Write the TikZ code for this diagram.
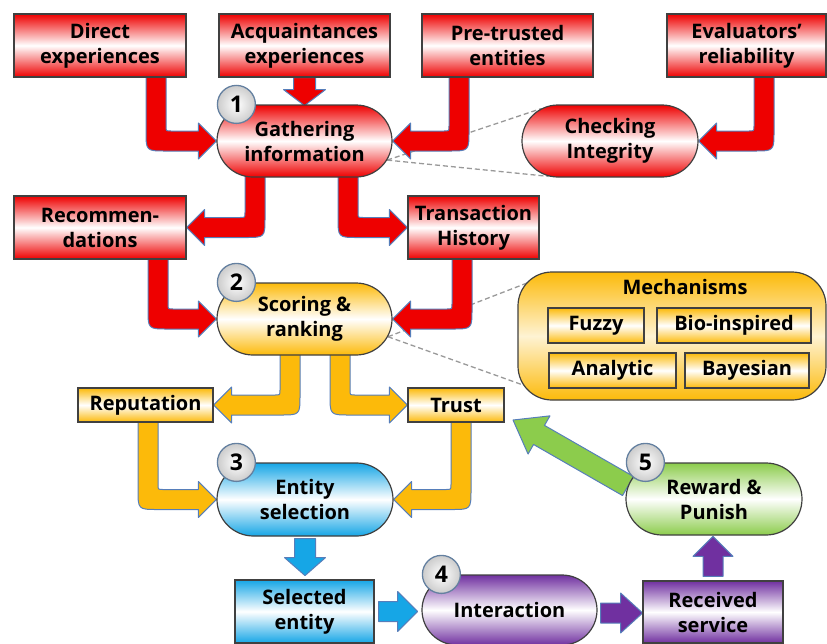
\documentclass[tikz,border=0pt]{standalone}
\usepackage{fontspec}
\setmainfont{Open Sans}
\usetikzlibrary{shapes.misc,calc}

\definecolor{cRed}{RGB}{238,0,0}
\definecolor{cOrange}{RGB}{252,186,10}
\definecolor{cBlue}{RGB}{22,166,230}
\definecolor{cPurple}{RGB}{112,48,160}
\definecolor{cGreen}{RGB}{140,204,76}
\definecolor{boxline}{RGB}{64,64,64}
\definecolor{arrowline}{RGB}{86,126,186}
\definecolor{badgeline}{RGB}{100,128,160}

\pgfdeclarelayer{back}
\pgfsetlayers{back,main}

% geometry of the bent block arrows
\def\aw{10pt}\def\ah{18pt}\def\aL{18pt}\def\aR{20pt}\def\ar{5pt}

% bent block arrow: leaves #2 downwards at x=#4, turns and hits side #5 of #3;
% #6 = 1 when it turns right, -1 when it turns left
\newcommand\larrow[6]{%
  \fill[blockarrow=#1] let \p1=(#2.south), \p2=(#3.#5) in
  ({(#4)*1pt-(#6)*\aw},{\y1+6pt})
  -- ({(#4)*1pt-(#6)*\aw},{\y2-\aw+\aR})
  .. controls ({(#4)*1pt-(#6)*\aw},{\y2-\aw}) ..
  ({(#4)*1pt-(#6)*\aw+(#6)*\aR},{\y2-\aw})
  -- ({\x2-(#6)*\aL},{\y2-\aw})
  -- ({\x2-(#6)*\aL},{\y2-\ah})
  -- (\x2,\y2)
  -- ({\x2-(#6)*\aL},{\y2+\ah})
  -- ({\x2-(#6)*\aL},{\y2+\aw})
  -- ({(#4)*1pt+(#6)*\aw+(#6)*\ar},{\y2+\aw})
  .. controls ({(#4)*1pt+(#6)*\aw},{\y2+\aw}) ..
  ({(#4)*1pt+(#6)*\aw},{\y2+\aw+\ar})
  -- ({(#4)*1pt+(#6)*\aw},{\y1+6pt}) -- cycle;}

% straight block arrow: colour, start, angle, length, half stem, half head, head length
\newcommand\sarrow[7]{%
  \fill[blockarrow=#1, shift={(#2)}, rotate=#3]
  (0pt,-#5pt) -- ({#4pt-#7pt},-#5pt) -- ({#4pt-#7pt},-#6pt) -- (#4pt,0pt)
  -- ({#4pt-#7pt},#6pt) -- ({#4pt-#7pt},#5pt) -- (0pt,#5pt) -- cycle;}

\tikzset{
  every node/.style={font=\bfseries\fontsize{20}{25}\selectfont, align=center, inner sep=0pt, text=black},
  shadebox/.style={draw=boxline, line width=1.2pt, top color=#1, bottom color=#1, middle color=white},
  redbox/.style={rectangle, shadebox=cRed},
  orangebox/.style={rectangle, shadebox=cOrange},
  bluebox/.style={rectangle, shadebox=cBlue},
  purplebox/.style={rectangle, shadebox=cPurple},
  pill/.style={rounded rectangle, draw=boxline, line width=1.2pt, top color=#1, bottom color=#1, middle color=white, minimum width=175pt, minimum height=72pt},
  blockarrow/.style={fill=#1, draw=arrowline, line width=1pt, line join=round},
  badge/.style={circle, minimum size=38pt, draw=badgeline, line width=1.3pt, inner color=white, outer color=gray!40, font=\bfseries\fontsize{23}{23}\selectfont},
  dashlink/.style={draw=gray!80, line width=1.3pt, dash pattern=on 5pt off 3pt},
}

\begin{document}
\begin{tikzpicture}[x=1pt,y=-1pt]
\useasboundingbox (0,0) rectangle (827,643);

% sources of information
\node[redbox, minimum width=172pt, minimum height=63pt] (direct) at (100,45.5) {Direct\\experiences};
\node[redbox, minimum width=171pt, minimum height=63pt] (acq) at (304.5,45.5) {Acquaintances\\experiences};
\node[redbox, minimum width=171pt, minimum height=63pt] (pre) at (507.5,45.5) {Pre-trusted\\entities};
\node[redbox, minimum width=159pt, minimum height=63pt] (eval) at (746.5,45.5) {Evaluators’\\reliability};

% step 1
\node[pill=cRed] (gather) at (304.5,141) {Gathering\\information};
\node[pill=cRed, minimum width=176pt] (chk) at (610,141) {Checking\\Integrity};

\node[redbox, minimum width=172pt, minimum height=63pt] (rec) at (100,227.5) {Recommen-\\dations};
\node[redbox, minimum width=131pt, minimum height=63pt] (trans) at (473.5,227.5) {Transaction\\History};

% step 2
\node[pill=cOrange] (score) at (304.5,319) {Scoring \&\\ranking};
\node[rectangle, rounded corners=34pt, draw=boxline, line width=1.2pt,
      top color=cOrange, bottom color=cOrange, middle color=cOrange!18!white,
      minimum width=308pt, minimum height=128pt] (mech) at (672,336) {};
\node (mtitle) at (685,287) {Mechanisms};
\node[orangebox, minimum width=96pt, minimum height=35pt] (fuzzy) at (596,325.5) {Fuzzy};
\node[orangebox, minimum width=154pt, minimum height=35pt] (bio) at (734,325.5) {Bio-inspired};
\node[orangebox, minimum width=127pt, minimum height=35pt] (analytic) at (612.5,370.5) {Analytic};
\node[orangebox, minimum width=124pt, minimum height=35pt] (bayes) at (747,370.5) {Bayesian};

\node[orangebox, minimum width=135pt, minimum height=34pt] (rep) at (145.5,405) {Reputation};
\node[orangebox, minimum width=96pt, minimum height=34pt] (trust) at (456,405) {Trust};

% step 3
\node[pill=cBlue, minimum width=176pt, minimum height=73pt] (entity) at (305,499.5) {Entity\\selection};
\node[bluebox, minimum width=139pt, minimum height=63pt] (selected) at (304.5,611.5) {Selected\\entity};

% step 4
\node[pill=cPurple, minimum height=70pt] (interaction) at (509.5,610) {Interaction};
\node[purplebox, minimum width=140pt, minimum height=62pt] (received) at (713,612) {Received\\service};

% step 5
\node[pill=cGreen, minimum width=176pt] (reward) at (714,499) {Reward \&\\Punish};

% step numbers
\node[badge] (b1) at ($(gather.west|-gather.north)+(20,0)$) {1};
\node[badge] (b2) at ($(score.west|-score.north)+(20,0)$) {2};
\node[badge] (b3) at ($(entity.west|-entity.north)+(20,0)$) {3};
\node[badge] (b4) at ($(interaction.west|-interaction.north)+(20,0)$) {4};
\node[badge] (b5) at ($(reward.west|-reward.north)+(20,0)$) {5};

% free ends of the zoom lines and of the feedback arrow
\coordinate (mup) at (540,278);
\coordinate (mlo) at (537,390);
\coordinate (fb) at (628,486);
\coordinate (i2r) at ($(interaction.east)+(3,3)$);

\begin{pgfonlayer}{back}
  % zoom lines
  \draw[dashlink] (gather.-13) -- (chk.155);
  \draw[dashlink] (gather.-13) -- (chk.210);
  \draw[dashlink] (score.-12) -- (mup);
  \draw[dashlink] (score.-12) -- (mlo);

  % red flow
  \larrow{cRed}{direct}{gather}{156}{west}{1}
  \sarrow{cRed}{acq.south}{-90}{28}{11}{21}{16}
  \larrow{cRed}{pre}{gather}{459}{east}{-1}
  \larrow{cRed}{eval}{chk}{764}{east}{-1}
  \larrow{cRed}{gather}{rec}{255}{east}{-1}
  \larrow{cRed}{gather}{trans}{348}{west}{1}
  \larrow{cRed}{rec}{score}{158}{west}{1}
  \larrow{cRed}{trans}{score}{462}{east}{-1}

  % orange flow
  \larrow{cOrange}{score}{rep}{290}{east}{-1}
  \larrow{cOrange}{score}{trust}{340}{west}{1}
  \larrow{cOrange}{rep}{entity}{148}{west}{1}
  \larrow{cOrange}{trust}{entity}{461}{east}{-1}

  % blue and purple flow
  \sarrow{cBlue}{[yshift=-2pt]entity.south}{-90}{37}{10.5}{20.5}{18}
  \sarrow{cBlue}{[xshift=4pt]selected.east}{0}{39}{10}{20}{20}
  \sarrow{cPurple}{i2r}{0}{42}{10}{20}{22}
  \sarrow{cPurple}{[yshift=4pt]received.north}{90}{40}{10}{20}{20}

  % feedback
  \sarrow{cGreen}{fb}{150.15}{132.6}{11}{22}{30}
\end{pgfonlayer}
\end{tikzpicture}
\end{document}
